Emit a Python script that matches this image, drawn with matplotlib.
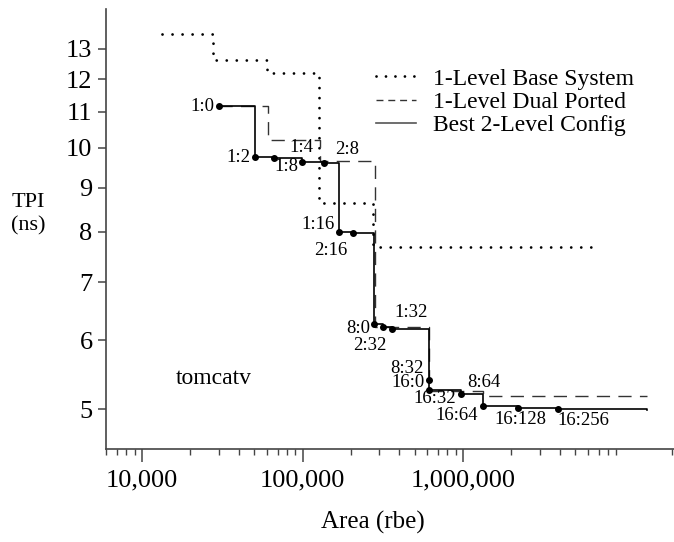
import numpy as np
import matplotlib
matplotlib.use('Agg')
import matplotlib.pyplot as plt
from matplotlib.lines import Line2D
from matplotlib.ticker import FixedLocator, NullLocator, NullFormatter, LogLocator

plt.rcParams['font.family'] = ['Liberation Serif', 'DejaVu Serif']

# 1-Level Base System (step, post)
base_area = [13270, 27700, 59820, 127200, 276200, 6644000]
base_tpi = [13.54, 12.62, 12.19, 8.65, 7.68, 7.68]

# 1-Level Dual Ported
dual_area = [30180, 60700, 128500, 283000, 614100, 1332000, 14010000]
dual_tpi = [11.16, 10.21, 9.665, 6.22, 5.25, 5.185, 5.185]

# Best 2-Level Config (dots at each config)
best_area = [30180, 50800, 66730, 99720, 136100, 169600, 207300, 279000,
             318700, 362600, 614100, 614100, 967600, 1338000, 2192000, 3908000]
best_tpi = [11.16, 9.77, 9.73, 9.62, 9.60, 8.01, 7.97, 6.26,
            6.22, 6.18, 5.41, 5.26, 5.20, 5.04, 5.02, 5.00]
best_end = (14010000, 4.99)

# config labels
lab_text = ['1:0', '1:2', '1:8', '1:4', '2:8', '1:16', '2:16', '8:0', '2:32', '1:32',
            '8:32', '16:0', '16:32', '16:64', '8:64', '16:128', '16:256']
lab_x = [23650, 40050, 78940, 98860, 189400, 124400, 149900, 222700, 264500, 472200,
         445900, 452400, 669000, 913500, 1346000, 2265000, 5618000]
lab_y = [11.16, 9.75, 9.51, 10.01, 9.95, 8.16, 7.61, 6.19, 5.92, 6.47,
         5.57, 5.37, 5.14, 4.92, 5.37, 4.87, 4.85]

W, H = 674, 542
fig = plt.figure(figsize=(W/100, H/100), dpi=100)
ax = fig.add_axes([105.7/W, (H-449)/H, 1 - 105.7/W, (449-9)/H])

dot_style = (0, (0.01, 3.6))
ax.plot(base_area, base_tpi, drawstyle='steps-post', color='black', lw=2.0,
        linestyle=dot_style, dash_capstyle='round')
ax.plot(dual_area, dual_tpi, drawstyle='steps-post', color='#333333', lw=1.0,
        linestyle=(0, (9.5, 6)))
bx = best_area + [best_end[0]]
by = best_tpi + [best_end[1]]
ax.plot(bx, by, drawstyle='steps-post', color='black', lw=1.2)
ax.plot(best_area, best_tpi, 'o', color='black', ms=4, lw=0)

for t, x, y in zip(lab_text, lab_x, lab_y):
    ax.text(x, y, t, ha='center', va='center', fontsize=13.5)

ax.text(28100, 5.42, 'tomcatv', ha='center', va='center', fontsize=17)

ax.set_xscale('log')
ax.set_yscale('log')
ax.set_xlim(5940, 2.064e7)
ax.set_ylim(4.5, 14.45)

ax.xaxis.set_major_locator(FixedLocator([1e4, 1e5, 1e6]))
ax.set_xticklabels(['10,000', '100,000', '1,000,000'])
ax.xaxis.set_minor_locator(LogLocator(base=10, subs=np.arange(2, 10)))
ax.xaxis.set_minor_formatter(NullFormatter())

yt = [5, 6, 7, 8, 9, 10, 11, 12, 13]
ax.yaxis.set_major_locator(FixedLocator(yt))
ax.set_yticklabels([str(v) for v in yt])
ax.yaxis.set_minor_locator(NullLocator())

ax.tick_params(axis='both', which='major', direction='out', labelsize=19, colors='#444444',
               labelcolor='black')
ax.tick_params(axis='x', which='major', length=9, width=1.1, pad=6)
ax.tick_params(axis='x', which='minor', length=4, width=1.0, colors='#444444')
ax.tick_params(axis='y', which='major', length=6, width=1.1)

for s in ['top', 'right']:
    ax.spines[s].set_visible(False)
for s in ['left', 'bottom']:
    ax.spines[s].set_color('#444444')
    ax.spines[s].set_linewidth(1.2)

fig.text(373/W, 1 - 522/H, 'Area (rbe)', ha='center', va='center', fontsize=18)
fig.text(28/W, 1 - 214/H, 'TPI\n(ns)', ha='center', va='center', fontsize=16,
         linespacing=1.3)

handles = [
    Line2D([], [], color='black', lw=2.0, linestyle=(0, (0.01, 3.4)), dash_capstyle='round'),
    Line2D([], [], color='#333333', lw=1.0, linestyle=(0, (5, 3.5))),
    Line2D([], [], color='#555555', lw=1.2),
]
fig.legend(handles, ['1-Level Base System', '1-Level Dual Ported', 'Best 2-Level Config'],
           loc='upper left', bbox_to_anchor=(376/W, 1 - 68/H), frameon=False,
           fontsize=17, handlelength=1.7, handletextpad=0.7, labelspacing=0.08,
           borderpad=0, borderaxespad=0)

fig.savefig('out.png', dpi=100)
